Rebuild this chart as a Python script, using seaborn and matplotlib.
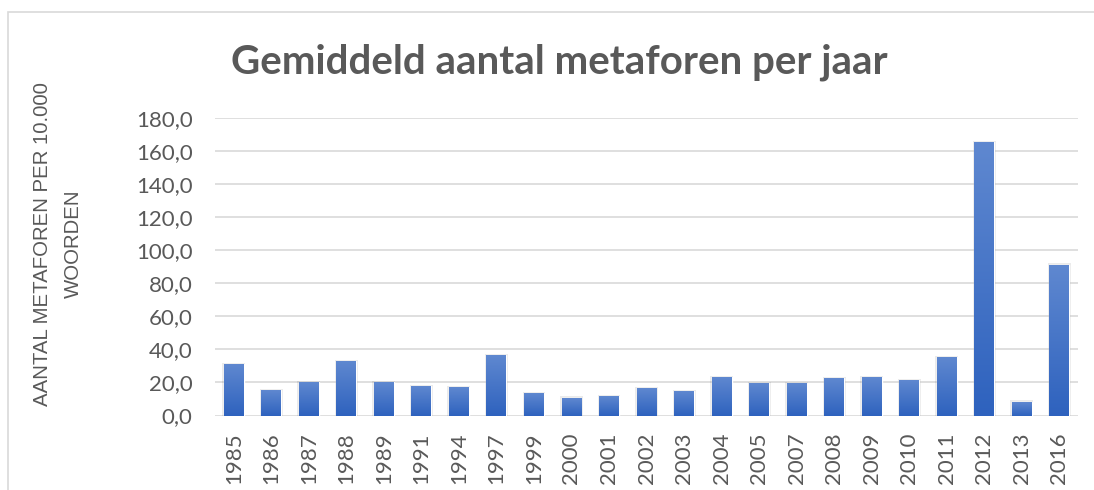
import matplotlib
matplotlib.use("Agg")
import matplotlib.pyplot as plt
import seaborn as sns
import pandas as pd
import numpy as np
from matplotlib.patches import Rectangle
from matplotlib.colors import LinearSegmentedColormap

# Data
years = ["1985", "1986", "1987", "1988", "1989", "1991", "1994", "1997", "1999", "2000",
         "2001", "2002", "2003", "2004", "2005", "2007", "2008", "2009", "2010", "2011",
         "2012", "2013", "2016"]
metaforen = [31.2, 15.6, 20.4, 33.0, 20.4, 18.0, 17.4, 36.6, 13.8, 10.8,
             12.0, 16.8, 15.0, 23.4, 19.8, 19.8, 22.8, 23.4, 21.6, 35.4,
             165.4, 8.4, 91.2]
yticks = [0, 20, 40, 60, 80, 100, 120, 140, 160, 180]

df = pd.DataFrame({"Jaar": years, "Metaforen": metaforen})

sns.set_style("white")
plt.rcParams["font.family"] = ["Lato", "DejaVu Sans"]

gray = "#595959"
fig = plt.figure(figsize=(10.94, 4.90), dpi=100)
ax = fig.add_axes([0.1965, 0.152, 0.789, 0.608])

sns.barplot(x="Jaar", y="Metaforen", data=df, color="#4170C6", width=0.53,
            saturation=1, ax=ax, zorder=3)

# gradient fill like the Excel bars (lighter on top, darker at the bottom)
cmap = LinearSegmentedColormap.from_list("bar", ["#2E62BE", "#5F88D0"])
grad = np.linspace(0, 1, 256).reshape(-1, 1)
for p in ax.patches:
    x0, w, h = p.get_x(), p.get_width(), p.get_height()
    # soft shadow
    ax.add_patch(Rectangle((x0 - 0.04, 0), w + 0.08, h + 0.7, color="#000000",
                           alpha=0.08, zorder=2, linewidth=0))
    im = ax.imshow(grad, extent=[x0, x0 + w, 0, h], origin="lower", cmap=cmap,
                   aspect="auto", zorder=3.5)
    im.set_clip_path(p)

ax.set_ylim(0, 180)
ax.set_yticks(yticks)
ax.set_yticklabels([f"{v:.1f}".replace(".", ",") for v in yticks])
ax.yaxis.grid(True, color="#D9D9D9", linewidth=1.2, zorder=0)
ax.set_axisbelow(True)
for s in ax.spines.values():
    s.set_visible(False)
ax.set_xlim(-0.5, len(years) - 0.5)
ax.tick_params(axis="x", labelrotation=90, labelsize=16, colors=gray, length=0, pad=12)
ax.tick_params(axis="y", labelsize=16, colors=gray, length=0, pad=16)
ax.set_xlabel("")
ax.set_ylabel("")

# y axis title, two lines
ylab_font = ["Liberation Sans", "DejaVu Sans"]
fig.text(43 / 1094, 0.502, "AANTAL METAFOREN PER 10.000", rotation=90, ha="center",
         va="center", fontsize=14.7, color=gray, family=ylab_font)
fig.text(73 / 1094, 0.502, "WOORDEN", rotation=90, ha="center", va="center",
         fontsize=14.7, color=gray, family=ylab_font)

fig.text(0.511, 0.873, "Gemiddeld aantal metaforen per jaar", ha="center", va="center",
         fontsize=29, fontweight="bold", color=gray)

# chart border (only left and top edges fall inside the picture)
fig.patches.append(Rectangle((8 / 1094, -0.05), 1.1, 0.9745 + 0.05,
                             transform=fig.transFigure, fill=False,
                             edgecolor="#D9D9D9", linewidth=1.2))

fig.savefig("out.png", dpi=100)
